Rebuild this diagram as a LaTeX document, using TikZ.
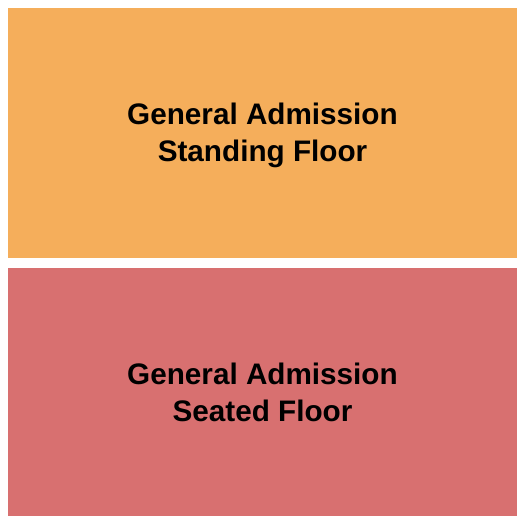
\documentclass[tikz,border=0pt]{standalone}
\usepackage{fontspec}
\setmainfont{Liberation Sans}
\definecolor{standorange}{RGB}{245, 174, 91}
\definecolor{seatred}{RGB}{216, 112, 112}
\usetikzlibrary{positioning}

\begin{document}
\begin{tikzpicture}[x=1bp, y=-1bp,
  floor/.style={draw=none, inner sep=0pt, font=\fontsize{29.8}{37}\selectfont\bfseries, align=center,
    minimum width=509bp, minimum height=250bp},
]
\useasboundingbox (0,0) rectangle (525,525);

% Standing area
\fill[standorange] (8,8) rectangle (517,258);
\node[floor] (standing) at (262.5, 135.5)
{General Admission\\Standing Floor};

% Seated area
\fill[seatred] (8,268) rectangle (517,516);
\node[floor, minimum height=248bp] (seated) at (262.5, 392)
{General Admission\\Seated Floor};
\end{tikzpicture}
\end{document}
